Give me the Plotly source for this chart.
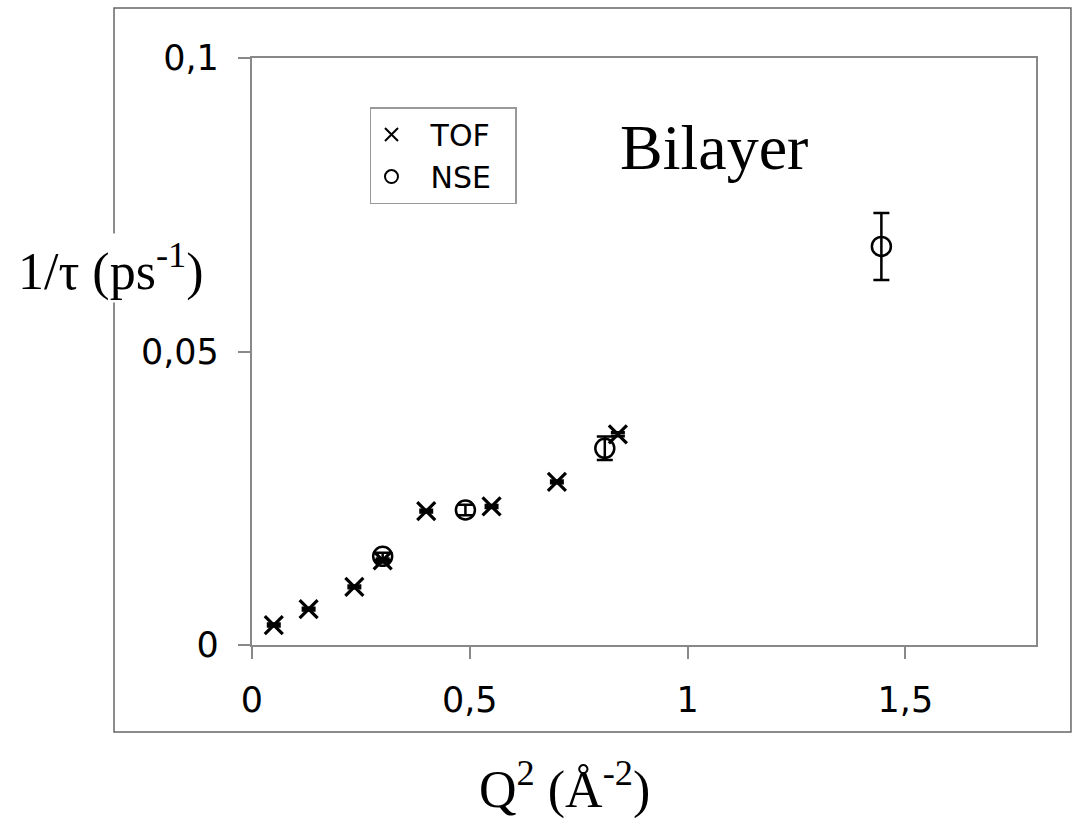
import plotly.graph_objects as go

# Data
tof_q2 = [0.05, 0.13, 0.235, 0.30, 0.40, 0.55, 0.70, 0.84]
tof_rate = [0.0034, 0.0061, 0.0099, 0.0144, 0.0228, 0.0236, 0.0278, 0.0359]
tof_err = [0.0002, 0.0002, 0.0002, 0.0003, 0.0002, 0.0002, 0.0002, 0.0003]

nse_q2 = [0.30, 0.49, 0.81, 1.445]
nse_rate = [0.0151, 0.0230, 0.0335, 0.0679]
nse_err = [0.0006, 0.0009, 0.0020, 0.0057]

x_tick_vals = [0, 0.5, 1, 1.5]
y_tick_vals = [0, 0.05, 0.1]

fig = go.Figure()

fig.add_trace(go.Scatter(
    x=tof_q2, y=tof_rate, mode="markers", name="TOF", showlegend=False,
    marker=dict(symbol="x-thin-open", size=18, color="black",
                line=dict(color="black", width=3.2)),
    error_y=dict(type="data", array=tof_err, visible=True, color="black",
                 thickness=3, width=7),
))
fig.add_trace(go.Scatter(
    x=nse_q2, y=nse_rate, mode="markers", name="NSE", showlegend=False,
    marker=dict(symbol="circle-open", size=19, color="black",
                line=dict(color="black", width=2.5)),
    error_y=dict(type="data", array=nse_err, visible=True, color="black",
                 thickness=2.5, width=8),
))
# legend entries (smaller symbols as in the reference legend)
fig.add_trace(go.Scatter(
    x=[None], y=[None], mode="markers", name="\u00a0\u00a0TOF\u00a0\u00a0",
    marker=dict(symbol="x-thin-open", size=13, color="black",
                line=dict(color="black", width=2)),
))
fig.add_trace(go.Scatter(
    x=[None], y=[None], mode="markers", name="\u00a0\u00a0NSE\u00a0\u00a0",
    marker=dict(symbol="circle-open", size=13, color="black",
                line=dict(color="black", width=2)),
))

axis_common = dict(
    showline=True, linecolor="#888888", linewidth=2.2, mirror=True,
    showgrid=False, zeroline=False,
    ticks="outside", ticklen=12, tickwidth=1.5, tickcolor="#888888",
    tickfont=dict(family="DejaVu Sans", size=35, color="black"),
)

fig.update_xaxes(range=[0, 1.8], tickvals=x_tick_vals, ticklabelstandoff=11,
                 **axis_common)
fig.update_yaxes(range=[0, 0.1], tickvals=y_tick_vals, ticklabelstandoff=12,
                 **axis_common)

fig.update_layout(
    width=1076, height=822,
    margin=dict(l=252, r=40, t=58, b=177),
    paper_bgcolor="white", plot_bgcolor="white",
    separators=",.",
    showlegend=True,
    legend=dict(
        x=0.1505, y=0.9165, xanchor="left", yanchor="top",
        bgcolor="white", bordercolor="#999999", borderwidth=1.5,
        font=dict(family="DejaVu Sans", size=30, color="black"),
        itemwidth=30, tracegroupgap=0,
    ),
    shapes=[
        dict(type="rect", xref="paper", yref="paper",
             x0=-0.176, x1=1.0446, y0=-0.1482, y1=1.0852,
             line=dict(color="#666666", width=1.5), layer="below"),
    ],
    annotations=[
        dict(text="1/τ (ps<sup>-1</sup>)", xref="paper", yref="paper",
             x=-0.18, y=0.642, xanchor="center", yanchor="middle",
             showarrow=False, bgcolor="white",
             font=dict(family="Liberation Serif", size=52, color="black")),
        dict(text="Q<sup>2</sup> (Å<sup>-2</sup>)", xref="paper", yref="paper",
             x=0.399, y=-0.24, xanchor="center", yanchor="middle",
             showarrow=False,
             font=dict(family="Liberation Serif", size=52, color="black")),
        dict(text="Bilayer", xref="paper", yref="paper",
             x=0.589, y=0.847, xanchor="center", yanchor="middle",
             showarrow=False,
             font=dict(family="Liberation Serif", size=64, color="black")),
    ],
)

fig.write_html("out.html")
